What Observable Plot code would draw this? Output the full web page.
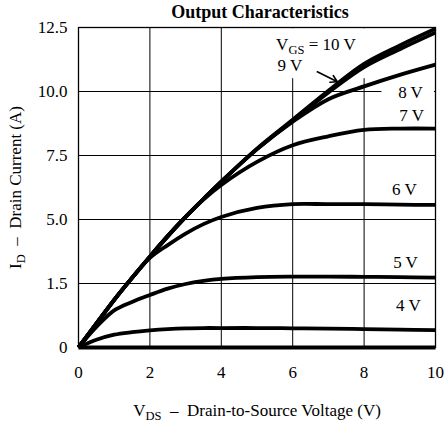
<!DOCTYPE html>
<html>
<head>
<meta charset="utf-8">
<script src="https://cdn.jsdelivr.net/npm/d3@7"></script>
<script src="https://cdn.jsdelivr.net/npm/@observablehq/plot@0.6"></script>
<style>
  html, body { margin: 0; padding: 0; background: #fff; }
  #chart svg { display: block; }
  #chart svg text { font-family: "Liberation Serif", "Times New Roman", serif; }
</style>
</head>
<body>
<div id="chart"></div>
<script>
// ---- Data ----
const vds   = [0, 0.5, 1, 1.5, 2, 2.5, 3, 3.5, 4, 5, 6, 7, 8, 9, 10];
const id3V  = [0, 0, 0, 0, 0, 0, 0, 0, 0, 0, 0, 0, 0, 0, 0];
const id4V  = [0, 0.30, 0.50, 0.60, 0.67, 0.72, 0.75, 0.76, 0.76, 0.76, 0.75, 0.74, 0.72, 0.70, 0.68];
const id5V  = [0, 0.80, 1.45, 1.78, 2.05, 2.30, 2.48, 2.60, 2.68, 2.75, 2.77, 2.77, 2.76, 2.75, 2.73];
const id6V  = [0, 0.93, 1.86, 2.72, 3.50, 4.00, 4.45, 4.82, 5.10, 5.45, 5.60, 5.60, 5.60, 5.58, 5.57];
const id7V  = [0, 0.93, 1.86, 2.72, 3.55, 4.35, 5.10, 5.78, 6.35, 7.25, 7.90, 8.25, 8.50, 8.55, 8.55];
const id8V  = [0, 0.93, 1.86, 2.72, 3.55, 4.35, 5.10, 5.80, 6.48, 7.75, 8.82, 9.70, 10.20, 10.65, 11.05];
const id9V  = [0, 0.93, 1.86, 2.72, 3.55, 4.35, 5.10, 5.80, 6.48, 7.75, 8.86, 9.96, 10.95, 11.65, 12.30];
const id10V = [0, 0.93, 1.86, 2.72, 3.55, 4.35, 5.10, 5.80, 6.48, 7.77, 8.90, 10.03, 11.08, 11.80, 12.45];

const seriesNames = ["3 V", "4 V", "5 V", "6 V", "7 V", "8 V", "9 V", "10 V"];
const seriesValues = [id3V, id4V, id5V, id6V, id7V, id8V, id9V, id10V];

const xTicks = [0, 2, 4, 6, 8, 10];
const yTicks = [0, 2.5, 5, 7.5, 10, 12.5];
const yTickLabels = ["0", "1.5", "5.0", "7.5", "10.0", "12.5"];
const gridX = [2, 4, 6, 8];
const gridY = [2.5, 5, 7.5, 10];

const curveLabels = ["V_{GS} = 10 V", "9 V", "8 V", "7 V", "6 V", "5 V", "4 V"];
const curveLabelX = [6.65, 5.92, 9.30, 9.33, 9.13, 9.16, 9.24];
const curveLabelY = [11.62, 10.80, 9.75, 8.86, 5.96, 3.10, 1.43];

const arrowFrom = [6.69, 10.77];
const arrowTo   = [7.25, 10.38];

// white patches where the reference gridlines are interrupted behind labels
const maskX1 = [5.2, 8.5];
const maskX2 = [9.0, 9.97];
const maskY1 = [10.5, 9.7];
const maskY2 = [12.45, 10.3];

const titleText = "Output Characteristics";
const xLabel = "V_{DS}  –  Drain-to-Source Voltage (V)";
const yLabel = "I_{D}  –  Drain Current (A)";

// ---- Build tidy table ----
const rows = seriesNames.flatMap((name, s) =>
  seriesValues[s].map((v, i) => ({vgs: name, vds: vds[i], id: v}))
);
const masks = maskX1.map((x1, i) => ({x1, x2: maskX2[i], y1: maskY1[i], y2: maskY2[i]}));
const labelRows = curveLabels.map((t, i) => ({t, x: curveLabelX[i], y: curveLabelY[i]}));

const font = '"Liberation Serif", "Times New Roman", serif';

const chart = Plot.plot({
  width: 444,
  height: 426,
  marginLeft: 78,
  marginRight: 9,
  marginTop: 27,
  marginBottom: 79,
  style: {fontFamily: font, fontSize: "17px", background: "white", color: "black", overflow: "visible"},
  x: {domain: [0, 10]},
  y: {domain: [0, 12.5]},
  marks: [
    Plot.ruleX(gridX, {stroke: "black", strokeWidth: 1}),
    Plot.ruleY(gridY, {stroke: "black", strokeWidth: 1}),
    Plot.rect(masks, {x1: "x1", x2: "x2", y1: "y1", y2: "y2", fill: "white"}),
    Plot.frame({stroke: "black", strokeWidth: 1.3}),
    Plot.line(rows, {x: "vds", y: "id", z: "vgs", stroke: "black", strokeWidth: 3.8, curve: "catmull-rom", strokeLinecap: "butt"}),
    Plot.arrow([0], {x1: () => arrowFrom[0], y1: () => arrowFrom[1], x2: () => arrowTo[0], y2: () => arrowTo[1], stroke: "black", strokeWidth: 1.6, headLength: 7}),
    Plot.axisX({ticks: xTicks, tickSize: 0, tickPadding: 18, label: null, fontSize: 17, fontFamily: font}),
    Plot.axisY({ticks: yTicks, tickSize: 0, tickPadding: 11, label: null, fontSize: 17, fontFamily: font,
      tickFormat: d => yTickLabels[yTicks.indexOf(d)]}),
    Plot.text(labelRows, {x: "x", y: "y", text: "t", lineAnchor: "bottom", textAnchor: "middle", fontSize: 17, fontFamily: font, fill: "black"}),
    Plot.text([titleText], {frameAnchor: "top", textAnchor: "middle", dx: 3, dy: -10, lineAnchor: "bottom", fontSize: 18, fontWeight: "bold", fontFamily: font, fill: "black"}),
    Plot.text([xLabel], {frameAnchor: "bottom", textAnchor: "middle", dy: 68.5, lineAnchor: "bottom", fontSize: 17, fontFamily: font, fill: "black"}),
    Plot.text([yLabel], {frameAnchor: "left", textAnchor: "middle", rotate: -90, dx: -57.3, lineAnchor: "bottom", fontSize: 17, fontFamily: font, fill: "black"})
  ]
});

document.getElementById("chart").appendChild(chart);

// ---- Subscripts: rewrite "_{..}" markers as real tspans ----
d3.select(chart).selectAll("text").each(function() {
  const s = this.textContent;
  if (!s.includes("_{")) return;
  const parts = s.split(/(_\{[^}]*\})/).filter(p => p.length);
  this.textContent = "";
  let shifted = false;
  for (const p of parts) {
    const ts = document.createElementNS("http://www.w3.org/2000/svg", "tspan");
    if (p.startsWith("_{")) {
      ts.textContent = p.slice(2, -1);
      ts.setAttribute("font-size", "12.5");
      ts.setAttribute("dy", "4");
      shifted = true;
    } else {
      ts.textContent = p;
      if (shifted) { ts.setAttribute("dy", "-4"); shifted = false; }
    }
    this.appendChild(ts);
  }
  this.style.whiteSpace = "pre";
});
</script>
</body>
</html>
